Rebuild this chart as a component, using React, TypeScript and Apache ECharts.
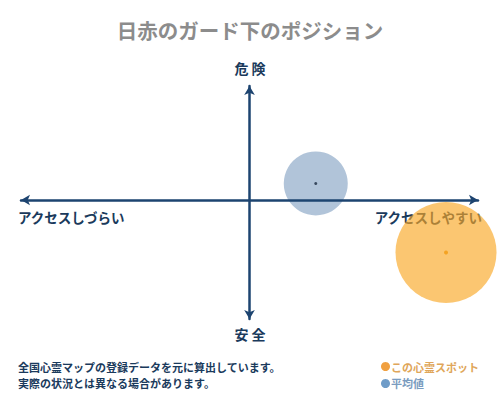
import React, { useEffect, useRef } from "react";
import * as echarts from "echarts";

const titleText = "日赤のガード下のポジション";
const seriesNames = ["この心霊スポット", "平均値"];
const accessValues = [0.86, 0.29];
const dangerValues = [-0.46, 0.145];
const topLabel = "危 険";
const bottomLabel = "安 全";
const leftLabel = "アクセスしづらい";
const rightLabel = "アクセスしやすい";
const noteLines = [
  "全国心霊マップの登録データを元に算出しています。",
  "実際の状況とは異なる場合があります。",
];

const FONT = '"Noto Sans CJK JP", "Noto Sans", sans-serif';
const NAVY = "#1d4470";
const TEXT_NAVY = "#1a3a5c";

export default function App() {
  const ref = useRef<HTMLDivElement>(null);
  useEffect(() => {
    document.body.style.margin = "0";
    if (!ref.current) return;
    const chart = echarts.init(ref.current, undefined, { renderer: "svg" });
    const axisCommon = {
      type: "value" as const,
      splitLine: { show: false },
      axisTick: { show: false },
      axisLabel: { show: false },
      z: 5,
      axisLine: {
        show: true,
        onZero: true,
        symbol: ["arrow", "arrow"],
        symbolSize: [8, 9],
        lineStyle: { color: NAVY, width: 2.5 },
      },
    };
    chart.setOption({
      animation: false,
      textStyle: { fontFamily: FONT },
      title: {
        text: titleText,
        left: "center",
        top: 15,
        textStyle: { fontFamily: FONT, fontSize: 20.5, fontWeight: "bold", color: "#8c8c8c" },
      },
      grid: { left: 21, right: 22, top: 86, bottom: 81 },
      xAxis: { ...axisCommon, min: -1, max: 1 },
      yAxis: { ...axisCommon, min: -1.044, max: 1 },
      legend: {
        orient: "vertical",
        left: 376,
        top: 356,
        itemWidth: 9,
        itemHeight: 9,
        itemGap: 6,
        icon: "circle",
        textStyle: { fontFamily: FONT, fontSize: 11, fontWeight: "bold", padding: [0, 0, 0, -4] },
        data: [
          { name: seriesNames[0], itemStyle: { color: "#f0a040", opacity: 1 }, textStyle: { color: "#e0a65a" } },
          { name: seriesNames[1], itemStyle: { color: "#6f9cc8", opacity: 1 }, textStyle: { color: "#7a9cc0" } },
        ],
      },
      graphic: [
        { type: "text", z: 1, x: 250, y: 68, style: { text: topLabel, textAlign: "center", textVerticalAlign: "middle", verticalAlign: "middle", font: `bold 14px ${FONT}`, fill: TEXT_NAVY } },
        { type: "text", z: 1, x: 250, y: 334, style: { text: bottomLabel, textAlign: "center", textVerticalAlign: "middle", verticalAlign: "middle", font: `bold 14px ${FONT}`, fill: TEXT_NAVY } },
        { type: "text", z: 1, x: 18, y: 217, style: { text: leftLabel, textAlign: "left", textVerticalAlign: "middle", verticalAlign: "middle", font: `bold 13.5px ${FONT}`, fill: TEXT_NAVY } },
        { type: "text", z: 1, x: 482, y: 217, style: { text: rightLabel, textAlign: "right", textVerticalAlign: "middle", verticalAlign: "middle", font: `bold 13.5px ${FONT}`, fill: TEXT_NAVY } },
        { type: "text", z: 1, x: 18, y: 367, style: { text: noteLines[0], textAlign: "left", textVerticalAlign: "middle", verticalAlign: "middle", font: `bold 11px ${FONT}`, fill: TEXT_NAVY } },
        { type: "text", z: 1, x: 18, y: 383, style: { text: noteLines[1], textAlign: "left", textVerticalAlign: "middle", verticalAlign: "middle", font: `bold 11px ${FONT}`, fill: TEXT_NAVY } },
      ],
      series: [
        {
          name: seriesNames[0],
          type: "scatter",
          z: 10,
          symbolSize: 101,
          itemStyle: { color: "#f9a825", opacity: 0.65 },
          data: [[accessValues[0], dangerValues[0]]],
        },
        {
          name: seriesNames[1],
          type: "scatter",
          z: 2,
          symbolSize: 64,
          itemStyle: { color: "#4a76a8", opacity: 0.43 },
          data: [[accessValues[1], dangerValues[1]]],
        },
        {
          name: "center-spot",
          type: "scatter",
          z: 11,
          symbolSize: 4,
          itemStyle: { color: "#f29a10" },
          data: [[accessValues[0], dangerValues[0]]],
        },
        {
          name: "center-avg",
          type: "scatter",
          z: 11,
          symbolSize: 3,
          itemStyle: { color: "#1a2a40" },
          data: [[accessValues[1], dangerValues[1]]],
        },
      ],
    });
    return () => chart.dispose();
  }, []);
  return <div ref={ref} style={{ width: 500, height: 400 }} />;
}
